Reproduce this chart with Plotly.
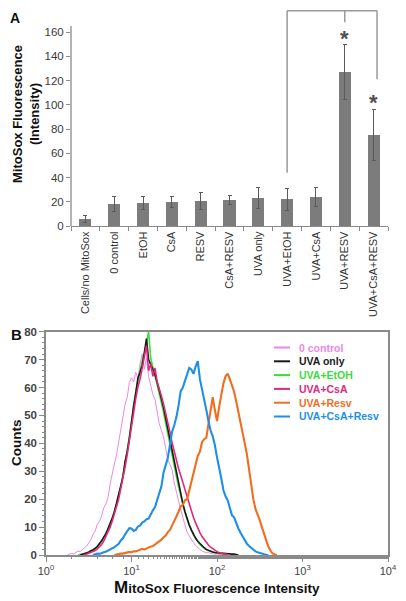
import plotly.graph_objects as go

W, H = 406, 601
PAGE_OFFSET = 8  # the page body margin shifts the figure by this many pixels


def fx(p):
    return (p - PAGE_OFFSET) / W


def fy(p):
    return 1 - (p - PAGE_OFFSET) / H


FONT = "Arial, Liberation Sans, sans-serif"

# ---------------- Panel A data ----------------
categories = ["Cells/no MitoSox", "0 control", "EtOH", "CsA", "RESV", "CsA+RESV",
              "UVA only", "UVA+EtOH", "UVA+CsA", "UVA+RESV", "UVA+CsA+RESV"]
means = [6, 18, 19, 20, 21, 21.5, 23, 22, 24, 127, 75]
errors = [3, 6, 5.5, 4.5, 7, 4, 8.5, 9, 8, 23, 21]
y_ticks_a = [0, 20, 40, 60, 80, 100, 120, 140, 160]

# significance bracket (data units)
bracket_top = 177.5
bracket_left = ("UVA+EtOH", 44)
bracket_mid = ("UVA+RESV", 168)
bracket_right = ("UVA+CsA+RESV", 121)
stars = [("UVA+RESV", 159), ("UVA+CsA+RESV", 106)]

# ---------------- Panel B data ----------------
intensity = [1.778, 1.884, 1.995, 2.113, 2.239, 2.371, 2.512, 2.661, 2.818, 2.985,
             3.162, 3.350, 3.548, 3.758, 3.981, 4.217, 4.467, 4.732, 5.012, 5.309,
             5.623, 5.957, 6.310, 6.683, 7.079, 7.499, 7.943, 8.414, 8.913, 9.441,
             10.00, 10.59, 11.22, 11.89, 12.59, 13.34, 14.13, 14.96, 15.85, 16.79,
             17.78, 18.84, 19.95, 21.13, 22.39, 23.71, 25.12, 26.61, 28.18, 29.85,
             31.62, 33.50, 35.48, 37.58, 39.81, 42.17, 44.67, 47.32, 50.12, 53.09,
             56.23, 59.57, 63.10, 66.83, 70.79, 74.99, 79.43, 84.14, 89.13, 94.41,
             100.0, 105.9, 112.2, 118.9, 125.9, 133.4, 141.3, 149.6, 158.5, 167.9,
             177.8, 188.4, 199.5, 211.3, 223.9, 237.1, 251.2, 266.1, 281.8, 298.5,
             316.2, 335.0, 354.8, 375.8, 398.1, 421.7, 446.7, 473.2, 501.2]

series_names = ["0 control", "UVA only", "UVA+EtOH", "UVA+CsA", "UVA+Resv", "UVA+CsA+Resv"]

counts_0_control = [0, 0.3, 0.6, 0.4, 1.0, 1.4, 1.2, 2.0, 2.6, 3.2,
                    4.2, 5.5, 7.4, 8.6, 11.0, 12.0, 14.0, 16.9, 18.2, 20.6,
                    25.4, 29.5, 32.6, 35.9, 40.5, 44.0, 50.2, 54.0, 56.5, 61.8,
                    63.5, 62.0, 65.5, 63.2, 68.4, 72.0, 66.5, 70.5, 64.0, 61.0,
                    57.5, 55.8, 50.5, 47.0, 44.6, 42.2, 38.2, 34.2, 32.4, 30.5,
                    25.8, 23.0, 19.2, 16.4, 13.5, 10.6, 8.2, 6.8, 5.4, 4.5,
                    3.4, 2.6, 2.0, 1.4, 1.2, 0.8, 0.9, 0.5, 0.4, 0.3,
                    0.4, 0.2, 0.1, 0]
counts_uva_only = [0, 0.2, 0.4, 0.8, 1.0, 1.5, 1.8, 2.4, 3.0, 4.1,
                   5.0, 6.4, 7.5, 9.4, 11.0, 13.2, 15.5, 18.6, 21.0, 24.8,
                   28.0, 33.5, 37.0, 41.8, 48.0, 53.4, 58.0, 63.4, 65.5, 67.9,
                   72.5, 77.5, 70.0, 68.2, 67.0, 64.6, 62.0, 59.3, 56.0, 52.8,
                   49.0, 45.4, 41.5, 37.6, 33.5, 29.4, 25.5, 22.0, 18.5, 15.6,
                   13.0, 10.8, 9.0, 7.4, 6.0, 4.9, 4.0, 3.2, 2.6, 2.0,
                   1.6, 1.3, 1.1, 0.9, 0.8, 0.7, 0.6, 0.5, 0.5, 0.4,
                   0.4, 0.3, 0.3, 0.1, 0]
counts_uva_etoh = [0, 0.2, 0.3, 0.6, 0.7, 1.2, 1.4, 2.0, 2.3, 3.2,
                   3.9, 5.2, 6.2, 7.8, 9.2, 11.4, 13.0, 15.9, 18.2, 21.6,
                   24.5, 28.5, 32.4, 37.6, 42.2, 48.5, 53.0, 58.4, 62.8, 66.0,
                   69.5, 72.0, 76.0, 80.0, 70.5, 67.5, 64.0, 61.0, 58.0, 54.5,
                   51.0, 47.0, 43.5, 39.5, 35.8, 32.0, 28.2, 24.5, 21.2, 18.0,
                   15.2, 12.8, 10.6, 8.8, 7.2, 5.9, 4.8, 3.8, 3.1, 2.4,
                   1.9, 1.5, 1.2, 1.0, 0.8, 0.7, 0.5, 0.4, 0.3, 0.2, 0]
counts_uva_csa = [0, 0.3, 0.6, 0.8, 1.2, 1.6, 2.2, 3.0, 3.8, 5.0,
                  6.5, 8.0, 10.0, 12.2, 14.5, 17.4, 20.0, 23.6, 27.0, 31.5,
                  36.0, 41.2, 46.0, 51.5, 56.0, 60.2, 63.0, 67.0, 71.0, 75.0,
                  66.0, 68.5, 64.0, 67.0, 62.0, 59.8, 57.0, 54.0, 51.0, 47.4,
                  44.0, 40.2, 37.0, 34.0, 31.0, 28.6, 26.0, 23.0, 20.5, 18.0,
                  15.5, 13.4, 11.5, 9.6, 8.0, 6.6, 5.5, 4.4, 3.6, 2.8,
                  2.2, 1.6, 1.2, 0.9, 0.6, 0.4, 0.3, 0.1, 0]
counts_uva_resv = [0, 0.2, 0.3, 0.5, 0.5, 0.7, 0.8, 1.1, 1.0, 1.3,
                   1.3, 1.6, 1.8, 2.2, 2.0, 2.4, 2.6, 3.0, 3.2, 3.8,
                   4.5, 4.8, 5.5, 6.4, 7.0, 8.2, 9.0, 10.6, 12.0, 13.8,
                   15.5, 17.4, 18.0, 19.6, 20.0, 23.0, 26.0, 29.5, 33.0, 35.5,
                   37.0, 40.5, 41.5, 42.0, 47.0, 52.0, 56.5, 52.0, 48.0, 53.0,
                   58.0, 61.5, 64.0, 65.0, 63.0, 61.0, 58.5, 55.0, 51.5, 48.0,
                   44.0, 40.0, 36.0, 30.5, 25.0, 20.0, 16.5, 14.8, 12.5, 10.0,
                   7.5, 5.2, 3.0, 1.6, 0.6, 0.2, 0]
counts_uva_csa_resv = [0, 0.3, 0.5, 0.4, 0.8, 1.0, 1.2, 1.6, 1.8, 2.4,
                       2.8, 3.4, 4.0, 5.2, 6.0, 7.4, 8.5, 9.6, 9.5, 8.6,
                       9.0, 10.2, 10.5, 11.6, 12.0, 12.8, 13.0, 14.8, 16.0, 17.2,
                       19.5, 22.0, 24.6, 29.6, 32.0, 34.8, 39.5, 44.2, 46.5, 49.4,
                       53.5, 58.6, 60.0, 62.4, 65.0, 67.0, 66.5, 64.9, 67.5, 69.5,
                       63.0, 59.6, 55.0, 52.0, 48.0, 44.6, 42.5, 39.4, 35.0, 31.8,
                       27.5, 23.2, 21.0, 19.6, 17.0, 14.2, 13.5, 11.2, 9.5, 8.0,
                       6.5, 5.1, 4.0, 3.2, 2.5, 1.8, 1.3, 1.0, 0.7, 0.5, 0.3, 0.1, 0]
series_counts = [counts_0_control, counts_uva_only, counts_uva_etoh,
                 counts_uva_csa, counts_uva_resv, counts_uva_csa_resv]
series_start = [0, 6, 5, 8, 22, 12]   # first grid channel of each histogram

x_tickvals_b = [1, 10, 100, 1000, 10000]
x_ticktext_b = ["10<sup>0</sup>", "10<sup>1</sup>", "10<sup>2</sup>", "10<sup>3</sup>", "10<sup>4</sup>"]

# styles
series_colors = ["#E98AE6", "#1A1A1A", "#3CDC3C", "#E0297C", "#F26D1E", "#1E8FE8"]
series_widths = [1.0, 1.6, 1.6, 1.6, 2.1, 2.1]
draw_order = [0, 2, 1, 3, 4, 5]

# panel A pixel scale: value 0 at y=226 px, 1.2125 px per unit; top of plot area at y=8 px
A_ZERO_PX, A_PX_PER_UNIT, A_TOP_PX = 226, 1.2125, 8
a_range_top = (A_ZERO_PX - A_TOP_PX) / A_PX_PER_UNIT

fig = go.Figure()

# Panel A bars
fig.add_trace(go.Bar(
    x=categories, y=means, width=0.42,
    marker=dict(color="#7c7c7c", line=dict(width=0)),
    error_y=dict(type="data", array=errors, visible=True, color="#5a5a5a",
                 thickness=1, width=2),
    xaxis="x", yaxis="y", showlegend=False,
))

# Panel B histograms
for k in draw_order:
    c = series_counts[k]
    s = series_start[k]
    fig.add_trace(go.Scatter(
        x=intensity[s:s + len(c)], y=c, mode="lines",
        line=dict(color=series_colors[k], width=series_widths[k]),
        name=series_names[k], showlegend=False,
        xaxis="x2", yaxis="y2",
    ))

shapes = []
# A: y axis line (only up to 165)
shapes.append(dict(type="line", xref="x domain", yref="y", x0=0, x1=0, y0=0, y1=165,
                   line=dict(color="#8a8a8a", width=1.3)))
# bracket
gray = "#9a9a9a"
ci = categories.index
shapes.append(dict(type="line", xref="x", yref="y", x0=ci(bracket_left[0]), x1=ci(bracket_right[0]) + 0.12,
                   y0=bracket_top, y1=bracket_top, line=dict(color=gray, width=1.5)))
shapes.append(dict(type="line", xref="x", yref="y", x0=ci(bracket_left[0]), x1=ci(bracket_left[0]),
                   y0=bracket_left[1], y1=bracket_top, line=dict(color=gray, width=1.5)))
shapes.append(dict(type="line", xref="x", yref="y", x0=ci(bracket_mid[0]), x1=ci(bracket_mid[0]),
                   y0=bracket_mid[1], y1=bracket_top, line=dict(color=gray, width=1.5)))
shapes.append(dict(type="line", xref="x", yref="y", x0=ci(bracket_right[0]) + 0.12, x1=ci(bracket_right[0]) + 0.12,
                   y0=bracket_right[1], y1=bracket_top, line=dict(color=gray, width=1.5)))

annotations = []
for cat, yv in stars:
    annotations.append(dict(x=cat, y=yv, xref="x", yref="y", text="<b>*</b>", showarrow=False,
                            font=dict(family=FONT, size=22, color="#505050"),
                            yanchor="middle", yshift=-5))

# panel letters
annotations.append(dict(x=fx(8), y=fy(8), xref="paper", yref="paper", text="<b>A</b>",
                        showarrow=False, xanchor="left", yanchor="top",
                        font=dict(family=FONT, size=14, color="#111")))
annotations.append(dict(x=fx(9), y=fy(334), xref="paper", yref="paper", text="<b>B</b>",
                        showarrow=False, xanchor="left", yanchor="middle",
                        font=dict(family=FONT, size=15, color="#111")))
# A y title
annotations.append(dict(x=fx(26), y=fy(114), xref="paper", yref="paper",
                        text="<b>MitoSox Fluorescence<br>(Intensity)</b>", textangle=-90,
                        showarrow=False, xanchor="center", yanchor="middle",
                        font=dict(family=FONT, size=13, color="#111")))
# B titles
annotations.append(dict(x=fx(16), y=fy(443), xref="paper", yref="paper",
                        text="<b>Counts</b>", textangle=-90, showarrow=False,
                        xanchor="center", yanchor="middle",
                        font=dict(family=FONT, size=13.5, color="#111")))
annotations.append(dict(x=fx(217), y=fy(587), xref="paper", yref="paper",
                        text="<b><span style='font-size:17px'>M</span>itoSox Fluorescence Intensity</b>",
                        showarrow=False, xanchor="center", yanchor="middle",
                        font=dict(family=FONT, size=13.5, color="#111")))

# manual legend for panel B
leg_y0, leg_dy = 347.5, 13.8
for k, name in enumerate(series_names):
    py = leg_y0 + k * leg_dy
    shapes.append(dict(type="line", xref="paper", yref="paper", x0=fx(274), x1=fx(290),
                       y0=fy(py), y1=fy(py), line=dict(color=series_colors[k], width=2)))
    annotations.append(dict(x=fx(297), y=fy(py), xref="paper", yref="paper",
                            text="<b>" + name + "</b>", showarrow=False,
                            xanchor="left", yanchor="middle",
                            font=dict(family=FONT, size=10.5, color=series_colors[k])))

axis_gray = "#8a8a8a"
tick_font = dict(family=FONT, size=11.5, color="#3a3a3a")
tick_font_b = dict(family=FONT, size=11, color="#444")

fig.update_layout(
    width=W, height=H,
    margin=dict(l=0, r=0, t=0, b=0, autoexpand=False),
    paper_bgcolor="white", plot_bgcolor="white",
    font=dict(family=FONT),
    bargap=0,
    xaxis=dict(domain=[fx(71), fx(388)], anchor="y", type="category", automargin=False,
               range=[-0.5, 10.5], showline=True, linecolor=axis_gray, linewidth=1.3,
               ticks="outside", tickson="boundaries", ticklen=4, tickcolor=axis_gray,
               tickangle=-90, tickfont=dict(family=FONT, size=11, color="#333"),
               showgrid=False, zeroline=False),
    yaxis=dict(domain=[fy(A_ZERO_PX), fy(A_TOP_PX)], anchor="x", range=[0, a_range_top],
               automargin=False,
               tickvals=y_ticks_a, ticks="outside", ticklen=4, tickcolor=axis_gray,
               showline=False, showgrid=False, zeroline=False, tickfont=tick_font),
    xaxis2=dict(domain=[fx(46), fx(388)], anchor="y2", type="log", range=[0, 4],
                automargin=False,
                tickvals=x_tickvals_b, ticktext=x_ticktext_b, ticks="outside", ticklen=5,
                tickcolor=axis_gray, showline=True, linecolor=axis_gray, linewidth=1.5,
                mirror=True, showgrid=False, zeroline=False,
                minor=dict(ticks="outside", ticklen=2, tickcolor=axis_gray, showgrid=False),
                tickfont=tick_font_b),
    yaxis2=dict(domain=[fy(555), fy(331.7)], anchor="x2", range=[0, 80], dtick=10,
                automargin=False,
                ticks="outside", ticklen=5, tickcolor=axis_gray, showline=True,
                linecolor=axis_gray, linewidth=1.5, mirror=True, showgrid=False,
                zeroline=False, tickprefix="<b>", ticksuffix="</b>",
                minor=dict(ticks="outside", ticklen=2, dtick=2, tickcolor=axis_gray, showgrid=False),
                tickfont=dict(family=FONT, size=11.5, color="#444")),
    shapes=shapes,
    annotations=annotations,
)

fig.write_html("out.html")
